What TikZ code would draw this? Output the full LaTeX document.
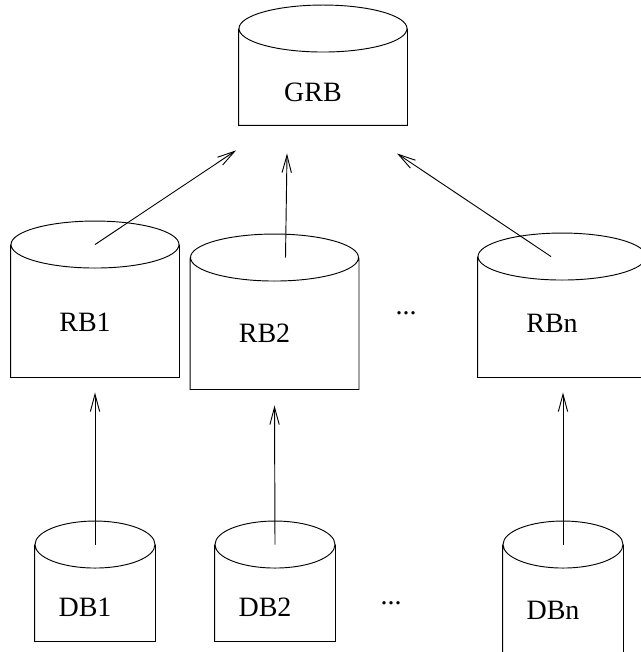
\documentclass[tikz,border=0pt]{standalone}
\usepackage{fontspec}
\setmainfont{Liberation Serif}
\usetikzlibrary{arrows.meta,calc}

\tikzset{
  store/.style={rectangle, inner sep=0pt, text depth=0pt,
    execute at end node={\hspace*{15pt}}},
  rbox/.style={store, minimum width=126pt},
  dbox/.style={store, minimum width=90pt},
  flow/.style={->, line width=0.7pt},
}

\begin{document}
\begin{tikzpicture}[x=0.75pt, y=-0.75pt, line width=0.7pt,
    >={Straight Barb[length=13pt,width=7pt]},
    font=\fontsize{21}{25}\selectfont]
  \useasboundingbox (0,0) rectangle (641,652);
  \clip (0,0) rectangle (641,652);

  % global base
  \node[rbox, minimum height=72pt, text height=36.75pt] (grb) at (323,77) {GRB};

  % regional bases
  \node[rbox, minimum height=99pt, text height=30.75pt] (rb1) at (95,311) {RB1};
  \node[rbox, minimum height=98.25pt, text height=28.5pt] (rb2) at (274.5,323.5) {RB2};
  \node (dots1) at (406,313) {...};
  \node[rbox, minimum height=90pt, text height=23.25pt] (rbn) at (562,317) {RBn};

  % local databases
  \node[dbox, minimum height=72pt, text height=35.25pt] (db1) at (95,593) {DB1};
  \node[dbox, minimum height=72pt, text height=35.25pt] (db2) at (275,593) {DB2};
  \node (dots2) at (391,603) {...};
  \node[dbox, minimum height=97.5pt, text height=14.25pt] (dbn) at (563,610) {DBn};

  % cylinder outlines
  \foreach \n/\r in {grb/84, rb1/84, rb2/84, rbn/84, db1/60, db2/60, dbn/60}
    \draw (\n.north west) -- (\n.south west) -- (\n.south east) -- (\n.north east)
          (\n.north) ellipse [x radius=\r, y radius=23.5];

  \coordinate (grb-a) at ($(grb.south)+(-87,25)$);
  \coordinate (grb-b) at ($(grb.south)+(-36,28)$);
  \coordinate (grb-c) at ($(grb.south)+(74,28)$);

  \draw[flow] (rb1.north) -- (grb-a);
  \draw[flow] ($(rb2.north)+(11,0)$) -- (grb-b);
  \draw[flow] ($(rbn.north)+(-11,0)$) -- (grb-c);

  \draw[flow] (db1.north) -- ($(rb1.south)+(0,15)$);
  \draw[flow] (db2.north) -- ($(rb2.south)+(0,16)$);
  \draw[flow] (dbn.north) -- ($(rbn.south)+(1,15)$);
\end{tikzpicture}
\end{document}
